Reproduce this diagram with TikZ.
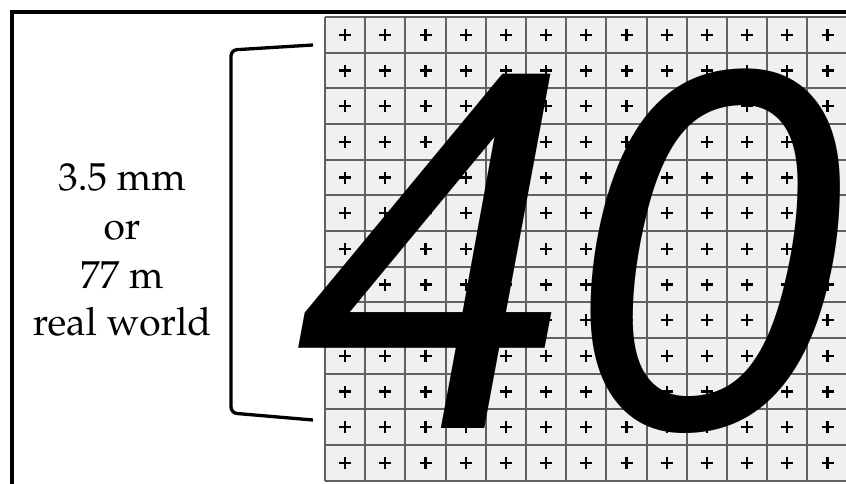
\documentclass[tikz,border=0pt]{standalone}
\usepackage[T1,TU]{fontenc}
\usepackage{fontspec}
\newfontfamily\digitfont{Liberation Sans}
\newcommand\palfont{\fontencoding{T1}\fontfamily{ppl}\selectfont}
\tikzset{
  frameline/.style={line width=3.2pt, black},
  gridline/.style={line width=2pt, black!62},
  cellfill/.style={fill=black!6},
  plusmark/.style={line width=2.3pt, black},
  bracketline/.style={line width=3.3pt, black, rounded corners=6pt},
  labeltext/.style={font=\palfont\fontsize{39}{46}\selectfont, anchor=base, inner sep=0pt},
  bigtext/.style={font=\digitfont\itshape\fontsize{515}{600}\selectfont, anchor=base, inner sep=0pt, xscale=0.96, transform shape}
}
\begin{document}
\begin{tikzpicture}[x=1pt,y=-1pt]
\useasboundingbox (0,0) rectangle (846,484);
\begin{scope}
\clip (0,0) rectangle (846,484);
% outer frame
\draw[frameline] (12,600) -- (12,12) -- (900,12);
% grid
\def\gx{325}\def\gy{17}\def\cw{40.2}\def\ch{35.67}
\fill[cellfill] (\gx,\gy) rectangle (\gx+13*\cw,\gy+13*\ch);
\foreach \i in {0,...,13}{
  \draw[gridline] (\gx+\i*\cw,\gy) -- (\gx+\i*\cw,\gy+13*\ch);
  \draw[gridline] (\gx,\gy+\i*\ch) -- (\gx+13*\cw,\gy+\i*\ch);
}
\foreach \i in {0,...,12}{
  \foreach \j in {0,...,12}{
    \coordinate (c) at (\gx+\i*\cw+0.5*\cw,\gy+\j*\ch+0.5*\ch);
    \draw[plusmark] ([xshift=-6pt]c) -- ([xshift=6pt]c);
    \draw[plusmark] ([yshift=-6pt]c) -- ([yshift=6pt]c);
  }
}
% big number
\node[bigtext] (forty) at (570,428) {40};
\end{scope}
% bracket
\coordinate (btop) at (313,45);
\coordinate (bbot) at (313,420);
\draw[bracketline] (btop) -- (231,50) -- (231,413) -- (bbot);
% labels
\node[labeltext] (l1) at (122,190) {3.5 mm};
\node[labeltext] (l2) at (122,239) {or};
\node[labeltext] (l3) at (122,288) {77 m};
\node[labeltext] (l4) at (122,335.5) {real world};
\end{tikzpicture}
\end{document}
